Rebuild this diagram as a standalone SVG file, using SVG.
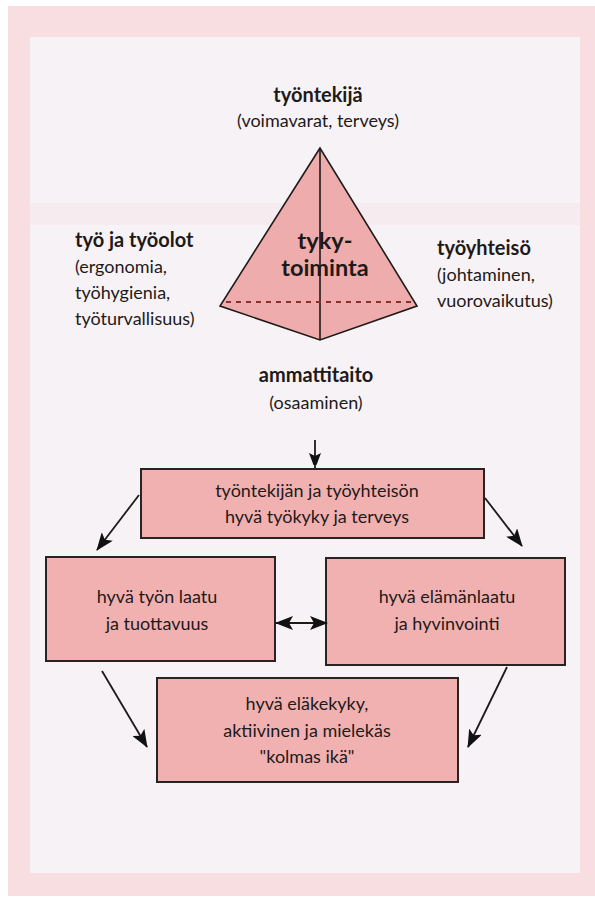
<svg xmlns="http://www.w3.org/2000/svg" width="595" height="899" viewBox="0 0 595 899">
<defs>
<style>
.t{font-family:Lato,"Open Sans","Liberation Sans",sans-serif;fill:#1e1a1a;}
.r{font-size:18px;}
.b{font-size:20px;font-weight:bold;}
.m{text-anchor:middle;}
.box{fill:#f2b1b1;stroke:#2a2323;stroke-width:2;}
.pyr{fill:#efacac;stroke:#1e1a1a;stroke-width:1.6;stroke-linejoin:miter;}
.ln{stroke:#1e1a1a;stroke-width:1.8;fill:none;}
</style>
<marker id="ah" viewBox="0 0 12 16" refX="15" refY="8" markerWidth="12" markerHeight="16" markerUnits="userSpaceOnUse" orient="auto-start-reverse">
<path d="M0,2 L16,8 L0,14 L3,8 z" fill="#111"/>
</marker>
<marker id="ahb" viewBox="0 0 18 14" refX="17" refY="7" markerWidth="18" markerHeight="14" markerUnits="userSpaceOnUse" orient="auto-start-reverse">
<path d="M0,0 L18,7 L0,14 L4,7 z" fill="#111"/>
</marker>
</defs>
<rect x="0" y="0" width="595" height="899" fill="#ffffff"/>
<rect x="8" y="6" width="587" height="890" fill="#f8dde1"/>
<rect x="30" y="37" width="550" height="836" fill="#f7f2f5"/>
<rect x="30" y="203" width="550" height="22" fill="#f5e6ea" opacity="0.6"/>

<g id="pyramid">
<polygon class="pyr" points="320,148 220,306 320,340 417,306"/>
<line x1="320" y1="148" x2="320" y2="340" stroke="#1e1a1a" stroke-width="1.6"/>
<line x1="226" y1="302" x2="412" y2="302" stroke="#8a2f2f" stroke-width="2" stroke-dasharray="5,5"/>
<text class="t m" x="325" y="249" font-size="23.5" font-weight="bold">tyky-</text>
<text class="t m" x="325" y="276" font-size="23.5" font-weight="bold">toiminta</text>
</g>

<g id="tyontekija">
<text class="t b m" x="318" y="102">työntekijä</text>
<text class="t r m" x="318" y="127">(voimavarat, terveys)</text>
</g>

<g id="tyo-ja-tyoolot">
<text class="t b" x="75" y="247">työ ja työolot</text>
<text class="t r" x="75" y="273">(ergonomia,</text>
<text class="t r" x="75" y="299">työhygienia,</text>
<text class="t r" x="75" y="325">työturvallisuus)</text>
</g>

<g id="tyoyhteiso">
<text class="t b" x="437" y="255">työyhteisö</text>
<text class="t r" x="437" y="281">(johtaminen,</text>
<text class="t r" x="437" y="307">vuorovaikutus)</text>
</g>

<g id="ammattitaito">
<text class="t b m" x="316" y="382">ammattitaito</text>
<text class="t r m" x="316" y="409">(osaaminen)</text>
</g>

<g id="tyokyky">
<rect class="box" x="141" y="469" width="343" height="69"/>
<text class="t r m" x="317" y="497">työntekijän ja työyhteisön</text>
<text class="t r m" x="317" y="523">hyvä työkyky ja terveys</text>
</g>

<g id="tyon-laatu">
<rect class="box" x="46" y="557" width="229" height="104"/>
<text class="t r m" x="157" y="603">hyvä työn laatu</text>
<text class="t r m" x="157" y="630">ja tuottavuus</text>
</g>

<g id="elamanlaatu">
<rect class="box" x="326" y="558" width="239" height="107"/>
<text class="t r m" x="447" y="603">hyvä elämänlaatu</text>
<text class="t r m" x="447" y="630">ja hyvinvointi</text>
</g>

<g id="elakekyky">
<rect class="box" x="157" y="678" width="301" height="104"/>
<text class="t r m" x="307" y="710">hyvä eläkekyky,</text>
<text class="t r m" x="307" y="737">aktiivinen ja mielekäs</text>
<text class="t r m" x="307" y="763">"kolmas ikä"</text>
</g>

<g id="connectors">
<line class="ln" x1="315" y1="440" x2="315" y2="468" marker-end="url(#ah)"/>
<line class="ln" x1="139" y1="495" x2="97" y2="550" marker-end="url(#ahb)"/>
<line class="ln" x1="485" y1="498" x2="522" y2="546" marker-end="url(#ahb)"/>
<line class="ln" x1="276" y1="623" x2="327" y2="623" marker-start="url(#ahb)" marker-end="url(#ahb)"/>
<line class="ln" x1="102" y1="671" x2="147" y2="747" marker-end="url(#ahb)"/>
<line class="ln" x1="507" y1="667" x2="468" y2="747" marker-end="url(#ahb)"/>
</g>
</svg>
